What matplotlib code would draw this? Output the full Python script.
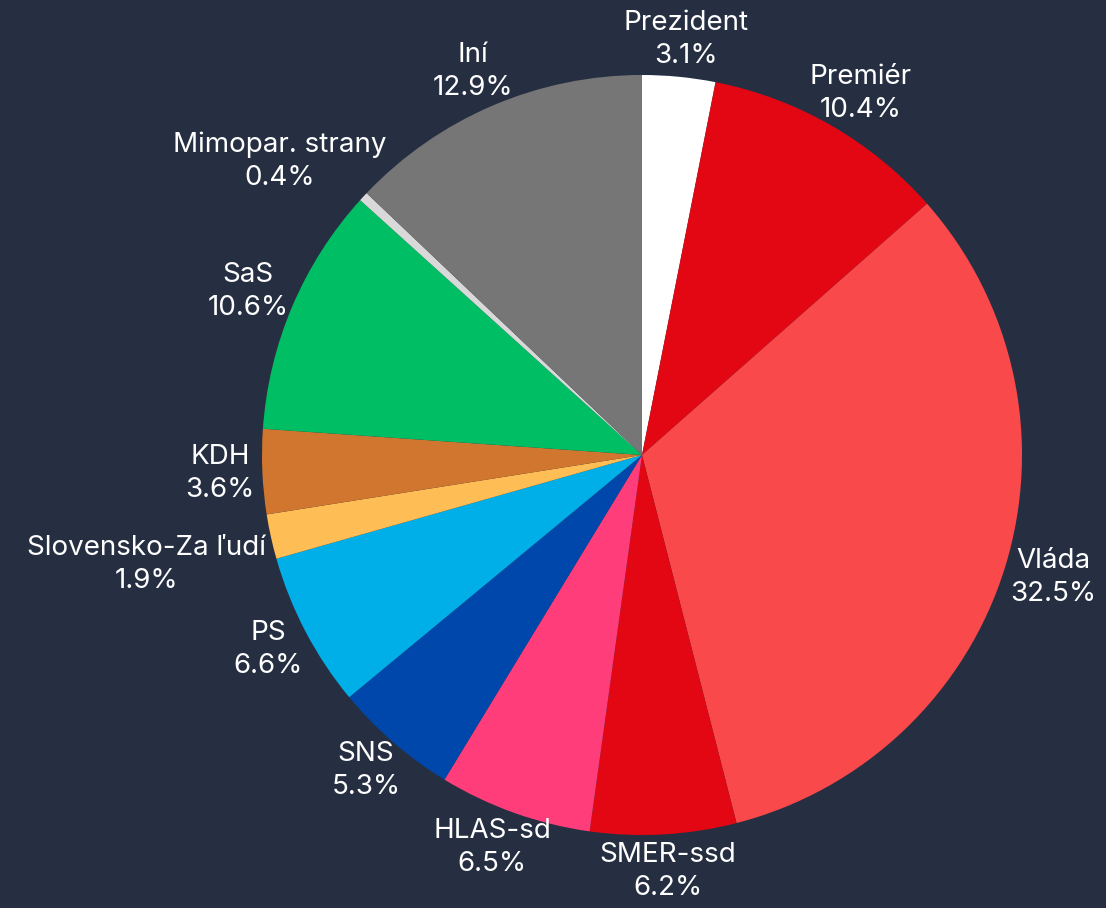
import numpy as np
import matplotlib.pyplot as plt

labels = ["Prezident", "Premiér", "Vláda", "SMER-ssd", "HLAS-sd", "SNS", "PS",
          "Slovensko-Za ľudí", "KDH", "SaS", "Mimopar. strany", "Iní"]
shares = [3.1, 10.4, 32.5, 6.2, 6.5, 5.3, 6.6, 1.9, 3.6, 10.6, 0.4, 12.9]
colors = ["#FFFFFF", "#E30613", "#F9494B", "#E30613", "#FF3D7A", "#0047AB",
          "#00AEE8", "#FFBE55", "#D0762F", "#00BE63", "#D9D9D9", "#767676"]

bg = "#262F42"
plt.rcParams['font.family'] = ['Inter', 'DejaVu Sans']

fig = plt.figure(figsize=(11.06, 9.08), dpi=100, facecolor=bg)
ax = fig.add_axes([0, 0, 1, 1])
ax.set_facecolor(bg)

# pie center ~ (642, 455) px, radius ~380 px
cx, cy, r = 642, 908 - 455, 380
ax.axis('off')

wedges, _ = ax.pie(shares, colors=colors, startangle=90, counterclock=False,
                   center=(cx, cy), radius=r, wedgeprops=dict(linewidth=0))
ax.set_xlim(0, 1106)
ax.set_ylim(0, 908)
ax.set_aspect('equal')

# small nudges where labels get pushed apart (px)
nudge = {"Slovensko-Za ľudí": (0, -20), "Mimopar. strany": (0, 10)}

fig.canvas.draw()
renderer = fig.canvas.get_renderer()
for w, lab, s in zip(wedges, labels, shares):
    ang = np.deg2rad((w.theta1 + w.theta2) / 2)
    px, py = cx + r * 1.02 * np.cos(ang), cy + r * 1.02 * np.sin(ang)
    t = ax.text(px, py, f"{lab}\n{s}%", color="white", fontsize=20,
                ha='center', va='center', linespacing=1.35)
    bb = t.get_window_extent(renderer)
    hw, hh = bb.width / 2, bb.height / 2
    dx, dy = nudge.get(lab, (0, 0))
    t.set_position((px + hw * np.cos(ang) + dx, py + hh * np.sin(ang) + dy))

fig.savefig("out.png", dpi=100, facecolor=bg)
